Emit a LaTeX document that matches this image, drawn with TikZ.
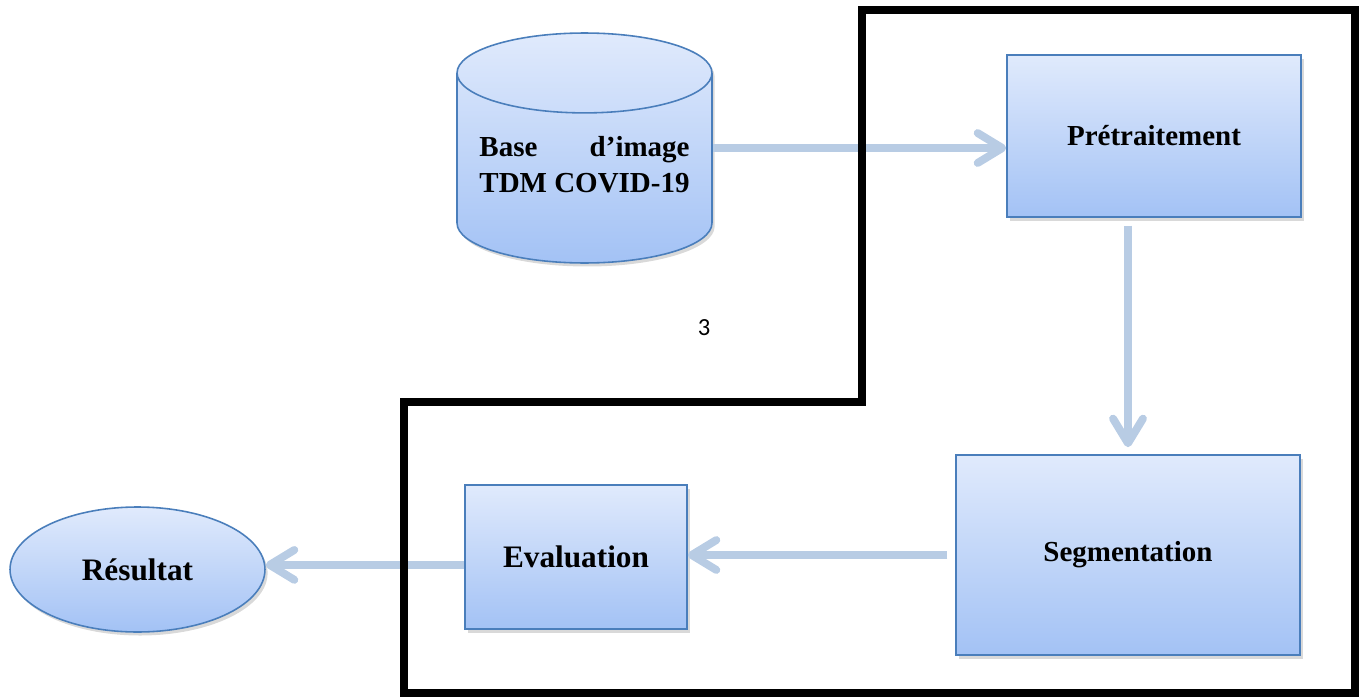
\documentclass[tikz,border=0pt]{standalone}
\usepackage{fontspec}
\setmainfont{Liberation Serif}
\newfontfamily\numfont{Carlito}
\usetikzlibrary{shapes.geometric,arrows.meta,shadows}

\definecolor{boxtop}{RGB}{224,234,252}
\definecolor{boxbottom}{RGB}{163,194,245}
\definecolor{boxline}{RGB}{74,126,187}
\definecolor{flowblue}{RGB}{184,204,228}

\begin{document}
\begin{tikzpicture}[x=0.02cm,y=-0.02cm,
  font=\bfseries\fontsize{16.5}{20.5}\selectfont,
  stepbox/.style={draw=boxline,line width=0.9pt,top color=boxtop,bottom color=boxbottom,
    drop shadow={shadow xshift=1.5pt,shadow yshift=-2pt,opacity=0.3}},
  bigtext/.style={font=\bfseries\fontsize{17.8}{21}\selectfont},
  flow/.style={draw=flowblue,line width=4.5pt,-{Straight Barb[length=14pt,width=17pt,round]}},
  frame/.style={line width=4.5pt}]
\useasboundingbox (0,0) rectangle (1363,700);

\node (base) [stepbox,cylinder,shape border rotate=90,aspect=0.36,anchor=shape center,
  minimum width=5.1cm,minimum height=4.6cm] at (584.5,148)
  {\raisebox{0pt}[\height][\dimexpr\depth+0.28cm\relax]{\begin{tabular}{@{}l@{}}Base\hfill d’image\\TDM COVID-19\end{tabular}}};
\node (pre) [stepbox,minimum width=5.88cm,minimum height=3.24cm] at (1154,136) {Prétraitement};
\node (seg) [stepbox,minimum width=6.88cm,minimum height=4cm] at (1128,555) {Segmentation};
\node (eval) [stepbox,bigtext,minimum width=4.44cm,minimum height=2.88cm] at (576,557) {Evaluation};
\node (res) [stepbox,bigtext,ellipse,inner sep=0pt,minimum width=5.1cm,minimum height=2.5cm] at (137.5,569.5) {Résultat};
\node (pagenum) [font=\numfont\fontsize{14}{17}\selectfont] at (704,328) {3};

\draw[flow] (base.shape center -| base.east) -- (base.shape center -| pre.west);
\draw[flow,shorten <=4.5pt,shorten >=4pt] (pre.south -| seg.north) -- (seg.north);
\draw[flow,shorten <=4.5pt] (seg.west) -- (seg.west -| eval.east);
\draw[flow] ([yshift=-4.5pt]eval.west) -- ([yshift=-4.5pt]eval.west -| res.east);

\draw[frame] (862,10) -- (1355,10) -- (1355,693) -- (404,693) -- (404,402) -- (862,402) -- cycle;
\end{tikzpicture}
\end{document}
